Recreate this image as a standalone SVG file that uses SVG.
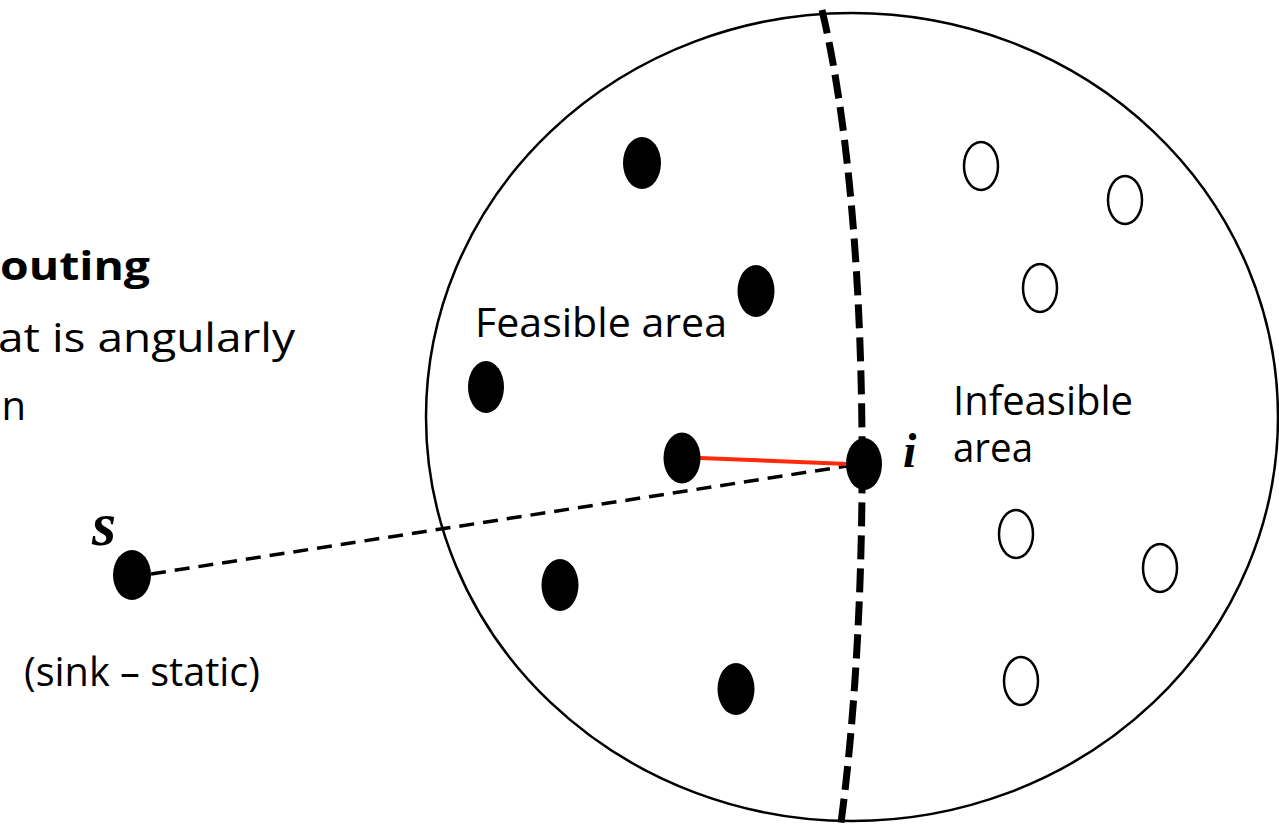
<svg xmlns="http://www.w3.org/2000/svg" width="1279" height="827" viewBox="0 0 1279 827">
  <style>
    .lbl { font-family: "Open Sans", "Liberation Sans", sans-serif; font-size: 40px; fill: #000; }
    .bold { font-weight: bold; }
    .var { font-family: "Liberation Serif", "Times New Roman", serif; font-weight: bold; font-style: italic; fill: #000; }
    .node { fill: #000; }
    .open { fill: #fff; stroke: #000; stroke-width: 2.5; }
    .region { fill: none; stroke: #000; stroke-width: 2.5; }
    .divider { fill: none; stroke: #000; stroke-width: 7; stroke-dasharray: 24 9; }
    .route { fill: none; stroke: #000; stroke-width: 3.5; stroke-dasharray: 15 9; }
    .link { fill: none; stroke: #ff2a0a; stroke-width: 4; }
  </style>

  <rect width="1279" height="827" fill="#fff"/>

  <!-- partially visible slide text on the left -->
  <g id="side-text">
    <text class="lbl bold" x="150" y="280" text-anchor="end" textLength="150" lengthAdjust="spacingAndGlyphs">outing</text>
    <text class="lbl" x="295" y="352" text-anchor="end" textLength="297" lengthAdjust="spacingAndGlyphs">at is angularly</text>
    <text class="lbl" x="26" y="420" text-anchor="end">n</text>
  </g>

  <!-- neighbourhood region and the feasibility boundary -->
  <g id="region">
    <ellipse class="region" cx="852" cy="417" rx="426" ry="404"/>
    <path class="divider" d="M822,10 C872,220 872,600 840,830"/>
  </g>

  <g id="region-labels">
    <text class="lbl" x="475" y="337" textLength="252" lengthAdjust="spacingAndGlyphs">Feasible area</text>
    <text class="lbl" x="953" y="415" textLength="180" lengthAdjust="spacingAndGlyphs">Infeasible</text>
    <text class="lbl" x="953" y="462" textLength="80" lengthAdjust="spacingAndGlyphs">area</text>
  </g>

  <!-- connectors -->
  <g id="connectors">
    <line class="route" x1="151" y1="574" x2="847" y2="466"/>
    <line class="link" x1="700" y1="458" x2="848" y2="464"/>
  </g>

  <!-- sink node -->
  <g id="sink">
    <ellipse class="node" cx="132" cy="575" rx="19" ry="25"/>
    <text class="var" x="92" y="545" font-size="62">s</text>
    <text class="lbl" x="260" y="686" text-anchor="end" textLength="236" lengthAdjust="spacingAndGlyphs">(sink – static)</text>
  </g>

  <!-- current node i -->
  <g id="node-i">
    <ellipse class="node" cx="864" cy="464" rx="18" ry="26"/>
    <text class="var" x="903" y="467" font-size="48">i</text>
  </g>

  <!-- feasible neighbours -->
  <g id="feasible-1"><ellipse class="node" cx="642" cy="163" rx="19" ry="26"/></g>
  <g id="feasible-2"><ellipse class="node" cx="756" cy="291" rx="18.5" ry="26"/></g>
  <g id="feasible-3"><ellipse class="node" cx="486" cy="387" rx="18" ry="26"/></g>
  <g id="feasible-4"><ellipse class="node" cx="682" cy="458" rx="18.5" ry="25.5"/></g>
  <g id="feasible-5"><ellipse class="node" cx="560" cy="585" rx="18.5" ry="26"/></g>
  <g id="feasible-6"><ellipse class="node" cx="736" cy="689" rx="18.5" ry="26"/></g>

  <!-- infeasible neighbours -->
  <g id="infeasible-1"><ellipse class="open" cx="981" cy="166" rx="17" ry="24"/></g>
  <g id="infeasible-2"><ellipse class="open" cx="1125" cy="200" rx="17" ry="24"/></g>
  <g id="infeasible-3"><ellipse class="open" cx="1040" cy="288" rx="17" ry="24"/></g>
  <g id="infeasible-4"><ellipse class="open" cx="1016" cy="534" rx="17" ry="24"/></g>
  <g id="infeasible-5"><ellipse class="open" cx="1160" cy="568" rx="17" ry="24"/></g>
  <g id="infeasible-6"><ellipse class="open" cx="1021" cy="681" rx="17" ry="24"/></g>
</svg>
